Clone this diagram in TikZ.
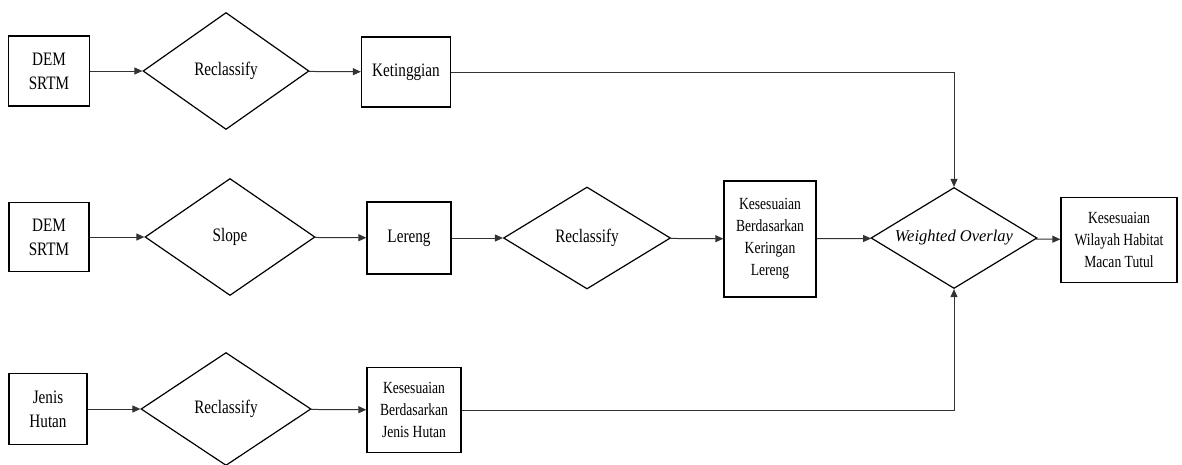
\documentclass[tikz,border=0pt]{standalone}
\usepackage{fontspec}
\setmainfont[FakeStretch=0.8]{Liberation Serif}
\newfontfamily\wofont{Liberation Serif}
\usetikzlibrary{shapes.geometric, arrows.meta}

\begin{document}
\begin{tikzpicture}[x=1pt, y=-1pt,
  databox/.style={draw, rectangle, line width=1.3pt, inner sep=0pt, align=center, font=\fontsize{19}{24}\selectfont},
  kesbox/.style={databox, font=\fontsize{17}{22}\selectfont},
  dec/.style={draw, diamond, line width=1.2pt, inner sep=0pt, align=center, font=\fontsize{19}{24}\selectfont},
  arr/.style={draw=black!80, line width=1pt, -{Triangle[length=8pt, width=7pt]}}
]
\useasboundingbox (0,0) rectangle (1182,464);

% Baris 1: ketinggian
\node[databox, minimum width=81, minimum height=70] (dem1) at (49,71) {DEM\\SRTM};
\node[dec, minimum width=166, minimum height=117] (rc1) at (226,71) {Reclassify};
\node[databox, minimum width=89, minimum height=70] (tinggi) at (406,72) {Ketinggian};

% Baris 2: lereng
\node[databox, minimum width=80, minimum height=69] (dem2) at (49,237) {DEM\\SRTM};
\node[dec, minimum width=170, minimum height=117] (slope) at (230,237) {Slope};
\node[databox, minimum width=84, minimum height=72] (lereng) at (409,238) {Lereng};
\node[dec, minimum width=167, minimum height=102] (rc2) at (587,238) {Reclassify};
\node[kesbox, minimum width=92, minimum height=116] (keslereng) at (770,239) {Kesesuaian\\Berdasarkan\\Keringan\\Lereng};
\node[dec, minimum width=166, minimum height=101,
  label={[font=\wofont\itshape\fontsize{16.5}{20}\selectfont]center:Weighted Overlay}] (overlay) at (954,238) {};
\node[kesbox, minimum width=116, minimum height=85] (habitat) at (1119,240) {Kesesuaian\\Wilayah Habitat\\Macan Tutul};

% Baris 3: jenis hutan
\node[databox, minimum width=78, minimum height=71] (hutan) at (48,409) {Jenis\\Hutan};
\node[dec, minimum width=170, minimum height=113] (rc3) at (226,409) {Reclassify};
\node[kesbox, minimum width=94, minimum height=85] (kesjenis) at (414,410) {Kesesuaian\\Berdasarkan\\Jenis Hutan};

% Panah baris 1
\draw[arr] (dem1) -- (rc1);
\draw[arr] (rc1) -- (tinggi);
\draw[arr] (tinggi.east) -| (overlay.north);

% Panah baris 2
\draw[arr] (dem2) -- (slope);
\draw[arr] (slope) -- (lereng);
\draw[arr] (lereng) -- (rc2);
\draw[arr] (rc2) -- (keslereng);
\draw[arr] (keslereng) -- (overlay);
\draw[arr] (overlay) -- (habitat);

% Panah baris 3
\draw[arr] (hutan) -- (rc3);
\draw[arr] (rc3) -- (kesjenis);
\draw[arr] (kesjenis.east) -| (overlay.south);

\end{tikzpicture}
\end{document}
